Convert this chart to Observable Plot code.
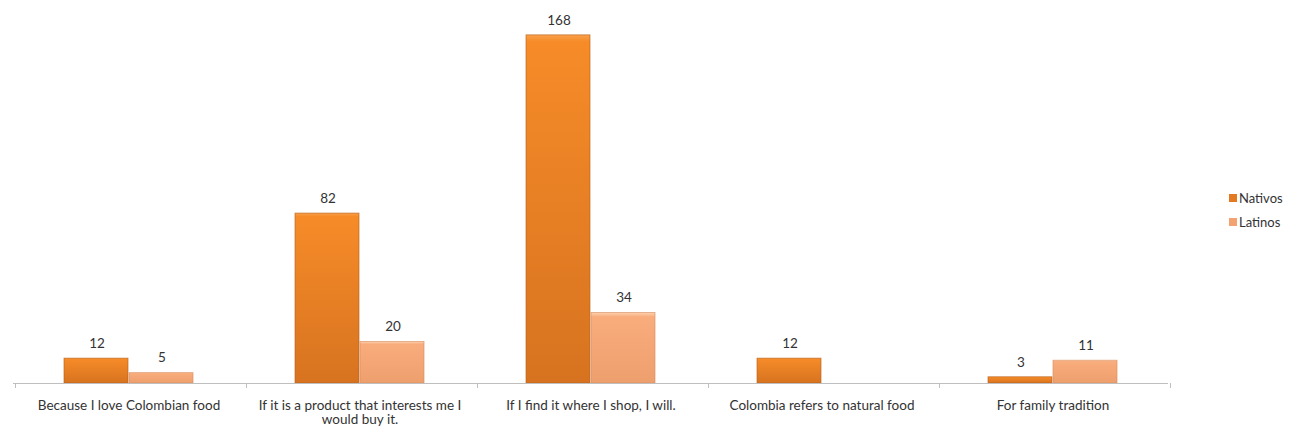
<!DOCTYPE html>
<html>
<head>
<meta charset="utf-8">
<script src="https://cdn.jsdelivr.net/npm/d3@7"></script>
<script src="https://cdn.jsdelivr.net/npm/@observablehq/plot@0.6"></script>
<style>
  body { margin: 0; background: #fff; font-family: Lato, "Open Sans", sans-serif; }
  #wrap { position: relative; width: 1289px; height: 430px; }
  #legend { position: absolute; left: 1229px; top: 186px; font-size: 13px; color: #333; }
  #legend div { display: flex; align-items: center; height: 24px; }
  #legend span.sw { display: inline-block; width: 8px; height: 8px; margin-right: 2px; }
</style>
</head>
<body>
<div id="wrap"><div id="legend"></div></div>
<script>
const categories = [
  "Because I love Colombian food",
  "If it is a product that interests me I would buy it.",
  "If I find it where I shop, I will.",
  "Colombia refers to natural food",
  "For family tradition"
];
const categoryLabels = [
  "Because I love Colombian food",
  "If it is a product that interests me I\nwould buy it.",
  "If I find it where I shop, I will.",
  "Colombia refers to natural food",
  "For family tradition"
];
const seriesNames = ["Nativos", "Latinos"];
const nativos = [12, 82, 168, 12, 3];
const latinos = [5, 20, 34, null, 11];
const seriesColors = ["url(#gradN)", "url(#gradL)"];
const legendColors = ["#E37A22", "#F4A272"];

const data = [];
categories.forEach((c, i) => {
  data.push({category: c, series: "Nativos", value: nativos[i]});
  if (latinos[i] != null) data.push({category: c, series: "Latinos", value: latinos[i]});
});
const labelOf = new Map(categories.map((c, i) => [c, categoryLabels[i]]));

const defs = () => {
  const svg = d3.create("svg:defs");
  const gN = svg.append("linearGradient").attr("id", "gradN").attr("x1", 0).attr("x2", 0).attr("y1", 0).attr("y2", 1);
  gN.append("stop").attr("offset", "0%").attr("stop-color", "#F9A04A");
  gN.append("stop").attr("offset", "2%").attr("stop-color", "#F68B28");
  gN.append("stop").attr("offset", "100%").attr("stop-color", "#D77320");
  const gL = svg.append("linearGradient").attr("id", "gradL").attr("x1", 0).attr("x2", 0).attr("y1", 0).attr("y2", 1);
  gL.append("stop").attr("offset", "0%").attr("stop-color", "#FCD3B0");
  gL.append("stop").attr("offset", "6%").attr("stop-color", "#F9AC7C");
  gL.append("stop").attr("offset", "100%").attr("stop-color", "#EE9F6E");
  return svg.node();
};

const boundaryTicks = (index, scales, values, dimensions) => {
  const g = d3.create("svg:g").attr("stroke", "#BFBFBF").attr("stroke-width", 1);
  const y0 = scales.y(0);
  const bw = scales.fx.bandwidth ? scales.fx.bandwidth() : 0;
  const xs = categories.map(c => scales.fx(c));
  xs.push(scales.fx(categories[categories.length - 1]) + bw);
  g.append("line").attr("x1", dimensions.marginLeft).attr("x2", dimensions.width - dimensions.marginRight)
    .attr("y1", y0 + 0.5).attr("y2", y0 + 0.5);
  xs.forEach(x => g.append("line").attr("x1", Math.round(x) + 0.5).attr("x2", Math.round(x) + 0.5)
    .attr("y1", y0).attr("y2", y0 + 5));
  return g.node();
};

const chart = Plot.plot({
  width: 1289,
  height: 430,
  marginLeft: 11,
  marginRight: 119,
  marginTop: 10,
  marginBottom: 47,
  style: {fontFamily: "Lato, 'Open Sans', sans-serif", fontSize: "13.5px", color: "#333"},
  fx: {domain: categories, padding: 0, label: null, axis: null},
  x: {domain: seriesNames, paddingInner: 0, paddingOuter: 0.76, axis: null},
  y: {domain: [0, 180], axis: null},
  color: {domain: seriesNames, range: seriesColors},
  marks: [
    defs,
    Plot.barY(data, {fx: "category", x: "series", y: "value", fill: d => d.series === "Nativos" ? seriesColors[0] : seriesColors[1],
      stroke: d => d.series === "Nativos" ? "#B9611C" : "#D98D60", strokeWidth: 0.8, strokeOpacity: 0.8, insetRight: 1}),
    Plot.text(data, {fx: "category", x: "series", y: "value", text: d => String(d.value), dy: -15, fill: "#333", fontSize: 13.5}),
    Plot.axisFx({anchor: "bottom", tickSize: 0, tickPadding: 16, label: null, tickFormat: c => labelOf.get(c), fill: "#333", fontSize: 13.5, lineHeight: 1.05}),
    boundaryTicks
  ]
});
document.getElementById("wrap").prepend(chart);

const legend = d3.select("#legend");
seriesNames.forEach((s, i) => {
  const row = legend.append("div");
  row.append("span").attr("class", "sw").style("background", legendColors[i]);
  row.append("span").text(s);
});
</script>
</body>
</html>
